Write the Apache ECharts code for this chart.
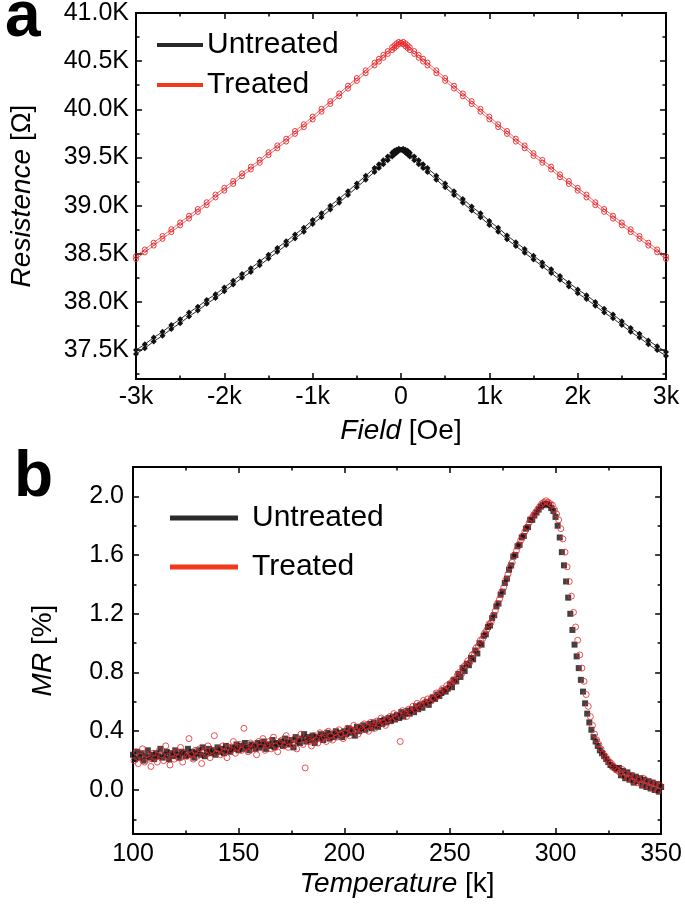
<!DOCTYPE html>
<html><head><meta charset="utf-8">
<script src="https://cdn.jsdelivr.net/npm/echarts@6/dist/echarts.min.js"></script>
<style>html,body{margin:0;padding:0;background:#fff}#c{width:685px;height:909px}</style>
</head><body><div id="c"></div>
<script>
// ---------- Panel a : R vs Field ----------
const fieldH = [-3000,-2900,-2800,-2700,-2600,-2500,-2400,-2300,-2200,-2100,-2000,-1900,-1800,-1700,-1600,-1500,-1400,-1300,-1200,-1100,-1000,-900,-800,-700,-600,-500,-400,
  -300,-250,-200,-150,-100,-75,-50,-25,0,25,50,75,100,150,200,250,300,
  400,500,600,700,800,900,1000,1100,1200,1300,1400,1500,1600,1700,1800,1900,2000,2100,2200,2300,2400,2500,2600,2700,2800,2900,3000];
// resistance in kOhm
const untreatedSweepA = [37.46,37.52,37.59,37.65,37.72,37.78,37.85,37.91,37.98,38.04,38.11,38.18,38.25,38.31,38.38,38.45,38.52,38.59,38.66,38.73,38.81,38.88,38.96,39.03,39.11,39.19,39.27,
  39.35,39.39,39.43,39.47,39.51,39.53,39.55,39.57,39.58,39.59,39.58,39.57,39.55,39.51,39.47,39.43,39.39,
  39.31,39.23,39.15,39.07,38.99,38.92,38.84,38.77,38.69,38.62,38.55,38.48,38.41,38.34,38.27,38.20,38.13,38.07,38.00,37.93,37.87,37.80,37.73,37.67,37.60,37.54,37.48];
const untreatedSweepB = [37.50,37.56,37.63,37.69,37.76,37.82,37.89,37.95,38.02,38.08,38.15,38.22,38.29,38.35,38.42,38.49,38.56,38.63,38.70,38.77,38.85,38.92,39.00,39.07,39.15,39.23,39.31,
  39.39,39.43,39.47,39.51,39.55,39.57,39.58,39.59,39.58,39.57,39.55,39.53,39.51,39.47,39.43,39.39,39.35,
  39.27,39.19,39.11,39.03,38.95,38.88,38.80,38.73,38.65,38.58,38.51,38.44,38.37,38.30,38.23,38.16,38.09,38.03,37.96,37.89,37.83,37.76,37.69,37.63,37.56,37.50,37.44];
const treatedSweepA = [38.445,38.515,38.585,38.655,38.725,38.795,38.865,38.935,39.005,39.085,39.155,39.225,39.305,39.375,39.445,39.525,39.595,39.665,39.745,39.815,39.895,39.975,40.055,40.135,40.215,40.295,40.375,
  40.455,40.495,40.535,40.575,40.615,40.635,40.655,40.675,40.69,40.70,40.685,40.665,40.645,40.605,40.565,40.525,40.485,
  40.405,40.325,40.245,40.165,40.085,40.005,39.925,39.845,39.775,39.695,39.625,39.545,39.475,39.405,39.325,39.255,39.185,39.115,39.035,38.965,38.895,38.825,38.755,38.685,38.615,38.545,38.475];
const treatedSweepB = [38.475,38.545,38.615,38.685,38.755,38.825,38.895,38.965,39.035,39.115,39.185,39.255,39.335,39.405,39.475,39.555,39.625,39.695,39.775,39.845,39.925,40.005,40.085,40.165,40.245,40.325,40.405,
  40.485,40.525,40.565,40.605,40.645,40.665,40.685,40.70,40.69,40.675,40.655,40.635,40.615,40.575,40.535,40.495,40.455,
  40.375,40.295,40.215,40.135,40.055,39.975,39.895,39.815,39.745,39.665,39.595,39.515,39.445,39.375,39.295,39.225,39.155,39.085,39.005,38.935,38.865,38.795,38.725,38.655,38.585,38.515,38.445];
const fieldMajorTicks = [-3000,-2000,-1000,0,1000,2000,3000];
const fieldMinorTicks = [-2500,-1500,-500,500,1500,2500];
const resMajorTicks = [37.5,38.0,38.5,39.0,39.5,40.0,40.5,41.0];
const resMinorTicks = [37.25,37.75,38.25,38.75,39.25,39.75,40.25,40.75];

// ---------- Panel b : MR vs Temperature ----------
const tempUntreatedStart = 100, tempTreatedStart = 100.5, tempStep = 1;
const mrUntreated = [
 0.24,0.21,0.26,0.22,0.25,0.20,0.23,0.27,0.22,0.24,
 0.21,0.25,0.23,0.28,0.22,0.24,0.26,0.21,0.25,0.23,
 0.27,0.24,0.22,0.26,0.25,0.23,0.28,0.24,0.26,0.22,
 0.25,0.27,0.24,0.29,0.23,0.26,0.28,0.25,0.27,0.24,
 0.29,0.26,0.28,0.25,0.30,0.27,0.26,0.29,0.28,0.31,
 0.27,0.30,0.28,0.32,0.29,0.27,0.31,0.30,0.28,0.32,
 0.29,0.31,0.33,0.28,0.31,0.30,0.34,0.29,0.32,0.31,
 0.33,0.30,0.35,0.32,0.31,0.34,0.29,0.36,0.33,0.32,
 0.35,0.38,0.33,0.36,0.34,0.37,0.32,0.36,0.35,0.38,
 0.34,0.37,0.39,0.35,0.38,0.36,0.40,0.37,0.39,0.36,
 0.40,0.38,0.42,0.39,0.41,0.37,0.43,0.40,0.42,0.44,
 0.41,0.43,0.45,0.42,0.46,0.44,0.43,0.47,0.45,0.48,
 0.46,0.49,0.47,0.50,0.48,0.51,0.49,0.53,0.50,0.52,
 0.54,0.52,0.55,0.53,0.57,0.55,0.58,0.56,0.59,0.60,
 0.58,0.61,0.63,0.62,0.65,0.64,0.66,0.68,0.67,0.69,
 0.72,0.70,0.75,0.74,0.79,0.77,0.83,0.81,0.86,0.85,
 0.90,0.89,0.95,0.93,1.00,0.99,1.05,1.06,1.11,1.12,
 1.17,1.19,1.25,1.27,1.33,1.35,1.41,1.44,1.50,1.53,
 1.59,1.60,1.66,1.67,1.72,1.73,1.78,1.79,1.84,1.84,
 1.87,1.89,1.91,1.93,1.94,1.95,1.95,1.94,1.92,1.90,
 1.86,1.80,1.72,1.62,1.53,1.42,1.31,1.20,1.09,0.99,
 0.91,0.83,0.75,0.67,0.59,0.52,0.46,0.41,0.36,0.33,
 0.30,0.27,0.25,0.23,0.21,0.19,0.17,0.16,0.15,0.14,
 0.15,0.10,0.13,0.08,0.12,0.07,0.10,0.05,0.09,0.06,
 0.08,0.03,0.07,0.02,0.06,0.01,0.05,0.00,0.04,-0.01,
 0.02];
const mrTreated = [
 0.20,0.26,0.18,0.23,0.28,0.19,0.24,0.21,0.16,0.25,
 0.22,0.19,0.27,0.24,0.20,0.30,0.23,0.17,0.25,0.21,
 0.26,0.22,0.29,0.19,0.25,0.23,0.35,0.24,0.21,0.27,
 0.23,0.28,0.18,0.26,0.24,0.30,0.22,0.27,0.37,0.25,
 0.28,0.24,0.30,0.26,0.22,0.29,0.27,0.33,0.25,0.29,
 0.31,0.27,0.42,0.29,0.26,0.32,0.28,0.30,0.24,0.33,
 0.29,0.35,0.27,0.31,0.33,0.28,0.36,0.30,0.26,0.32,
 0.34,0.30,0.37,0.29,0.33,0.31,0.35,0.28,0.34,0.38,
 0.31,0.15,0.35,0.33,0.30,0.37,0.34,0.32,0.39,0.35,
 0.36,0.33,0.40,0.37,0.34,0.39,0.36,0.41,0.38,0.35,
 0.39,0.42,0.37,0.41,0.44,0.40,0.38,0.43,0.41,0.45,
 0.43,0.40,0.46,0.44,0.42,0.47,0.45,0.49,0.46,0.44,
 0.48,0.50,0.47,0.52,0.49,0.51,0.33,0.54,0.52,0.50,
 0.55,0.53,0.57,0.55,0.59,0.56,0.58,0.61,0.59,0.62,
 0.60,0.63,0.62,0.66,0.64,0.67,0.69,0.68,0.71,0.70,
 0.73,0.75,0.74,0.78,0.80,0.79,0.84,0.85,0.88,0.87,
 0.92,0.93,0.97,0.98,1.02,1.03,1.07,1.09,1.13,1.14,
 1.19,1.22,1.27,1.30,1.35,1.38,1.43,1.47,1.52,1.55,
 1.60,1.63,1.67,1.70,1.73,1.76,1.79,1.82,1.85,1.87,
 1.89,1.91,1.93,1.95,1.96,1.97,1.96,1.95,1.94,1.91,
 1.88,1.84,1.78,1.71,1.62,1.52,1.42,1.32,1.21,1.11,
 1.02,0.92,0.83,0.74,0.65,0.57,0.50,0.44,0.38,0.34,
 0.31,0.28,0.25,0.23,0.21,0.19,0.18,0.16,0.14,0.13,
 0.12,0.14,0.09,0.11,0.08,0.10,0.06,0.09,0.05,0.07,
 0.04,0.08,0.03,0.06,0.02,0.05,0.01,0.04,-0.01,0.03];
const tempMajorTicks = [100,150,200,250,300,350];
const tempMinorTicks = [125,175,225,275,325];
const mrMajorTicks = [0.0,0.4,0.8,1.2,1.6,2.0];
const mrMinorTicks = [-0.2,0.2,0.6,1.0,1.4,1.8];

const legendNames = ['Untreated','Treated'];

// ---------- build ----------
const FONT = "'Liberation Sans', Arial, Helvetica, sans-serif";
const BLACK = '#111111', RED = '#e8262a';

function pairs(xs, ys){ return ys.map((y,i)=>[xs[i], y]); }
function tempPairs(start, ys){ return ys.map((y,i)=>[start + i*tempStep, y]); }

function axisSet(dim, grid, min, max, majors, minors, fmt, labelMargin, nameCfg){
  const pos = dim === 'x' ? ['bottom','top'] : ['left','right'];
  const out = [];
  [0,1].forEach(side => {
    [true,false].forEach(isMajor => {
      const main = side === 0 && isMajor;
      const ax = {
        type:'value', gridIndex:grid, min:min, max:max, position:pos[side],
        axisLine:{show:isMajor, onZero:false, lineStyle:{color:'#000', width:2}},
        axisTick:{show:true, inside:true, length:isMajor?6:3.5, customValues:isMajor?majors:minors, lineStyle:{color:'#000', width:1.5}},
        axisLabel:{show:main, customValues:majors, formatter:fmt, margin:labelMargin, fontSize:25, color:'#000', fontFamily:FONT},
        splitLine:{show:false}
      };
      if (main && nameCfg) {
        Object.assign(ax, {
          name:nameCfg.text, nameLocation:'middle', nameGap:nameCfg.gap,
          nameTextStyle:{fontSize:28, color:'#000', fontFamily:FONT,
            rich:{i:{fontStyle:'italic', fontSize:28, color:'#000', fontFamily:FONT}, n:{fontSize:28, color:'#000', fontFamily:FONT}}}
        });
      }
      out.push(ax);
    });
  });
  return out;
}

const xAxes = [].concat(
  axisSet('x', 0, -3000, 3000, fieldMajorTicks, fieldMinorTicks, v => v===0 ? '0' : (v/1000)+'k', 6, {text:'{i|Field}{n| [Oe]}', gap:38}),
  axisSet('x', 1, 100, 350, tempMajorTicks, tempMinorTicks, v => String(v), 8, {text:'{i|Temperature}{n| [k]}', gap:36})
);
const yAxes = [].concat(
  axisSet('y', 0, 37.2, 41.0, resMajorTicks, resMinorTicks, v => v.toFixed(1)+'K', 7, {text:'{i|Resistence}{n| [Ω]}', gap:100}),
  axisSet('y', 1, -0.3, 2.2, mrMajorTicks, mrMinorTicks, v => v.toFixed(1), 9, {text:'{i|MR}{n| [%]}', gap:76})
);

const hollowRedTop = {color:'rgba(0,0,0,0)', borderColor:RED, borderWidth:0.9};
const hollowRed = {color:'rgba(0,0,0,0)', borderColor:RED, borderWidth:1};

const series = [
  {name:'Untreated', type:'line', xAxisIndex:0, yAxisIndex:0, data:pairs(fieldH, untreatedSweepA),
   symbol:'diamond', symbolSize:6, showAllSymbol:true, itemStyle:{color:BLACK}, lineStyle:{color:BLACK, width:0.9}},
  {name:'Untreated', type:'line', xAxisIndex:0, yAxisIndex:0, data:pairs(fieldH, untreatedSweepB),
   symbol:'diamond', symbolSize:6, showAllSymbol:true, itemStyle:{color:BLACK}, lineStyle:{color:BLACK, width:0.9}},
  {name:'Treated', type:'line', xAxisIndex:0, yAxisIndex:0, data:pairs(fieldH, treatedSweepA),
   symbol:'circle', symbolSize:5, showAllSymbol:true, itemStyle:hollowRedTop, lineStyle:{color:RED, width:0.7}},
  {name:'Treated', type:'line', xAxisIndex:0, yAxisIndex:0, data:pairs(fieldH, treatedSweepB),
   symbol:'circle', symbolSize:5, showAllSymbol:true, itemStyle:hollowRedTop, lineStyle:{color:RED, width:0.7}},
  {name:'Untreated', type:'scatter', xAxisIndex:4, yAxisIndex:4, data:tempPairs(tempUntreatedStart, mrUntreated),
   symbol:'rect', symbolSize:6, itemStyle:{color:BLACK}},
  {name:'Treated', type:'scatter', xAxisIndex:4, yAxisIndex:4, data:tempPairs(tempTreatedStart, mrTreated),
   symbol:'circle', symbolSize:6, itemStyle:hollowRed}
];

function legendData(){
  return [
    {name:legendNames[0], icon:'rect', itemStyle:{color:'#2a2a2a', borderWidth:0}},
    {name:legendNames[1], icon:'rect', itemStyle:{color:'#f2391c', borderWidth:0}}
  ];
}

const option = {
  animation:false,
  backgroundColor:'#fff',
  title:[
    {text:'a', left:5, top:-14, padding:0, textStyle:{fontSize:64, fontWeight:'bold', color:'#000', fontFamily:FONT}},
    {text:'b', left:14, top:446, padding:0, textStyle:{fontSize:64, fontWeight:'bold', color:'#000', fontFamily:FONT}}
  ],
  legend:[
    {orient:'vertical', left:157, top:30, padding:0, itemWidth:46, itemHeight:4, itemGap:10, selectedMode:false,
     textStyle:{fontSize:30, color:'#000', fontFamily:FONT, padding:[0,0,0,-1]}, data:legendData()},
    {orient:'vertical', left:170, top:503, padding:0, itemWidth:68, itemHeight:5, itemGap:19, selectedMode:false,
     textStyle:{fontSize:30, color:'#000', fontFamily:FONT, padding:[0,0,0,9]}, data:legendData()}
  ],
  grid:[
    {left:136, top:13, width:530, height:366},
    {left:133, top:467, width:529, height:367}
  ],
  xAxis:xAxes,
  yAxis:yAxes,
  series:series
};

const chart = echarts.init(document.getElementById('c'), null, {renderer:'canvas'});
chart.setOption(option);
</script>
</body></html>
